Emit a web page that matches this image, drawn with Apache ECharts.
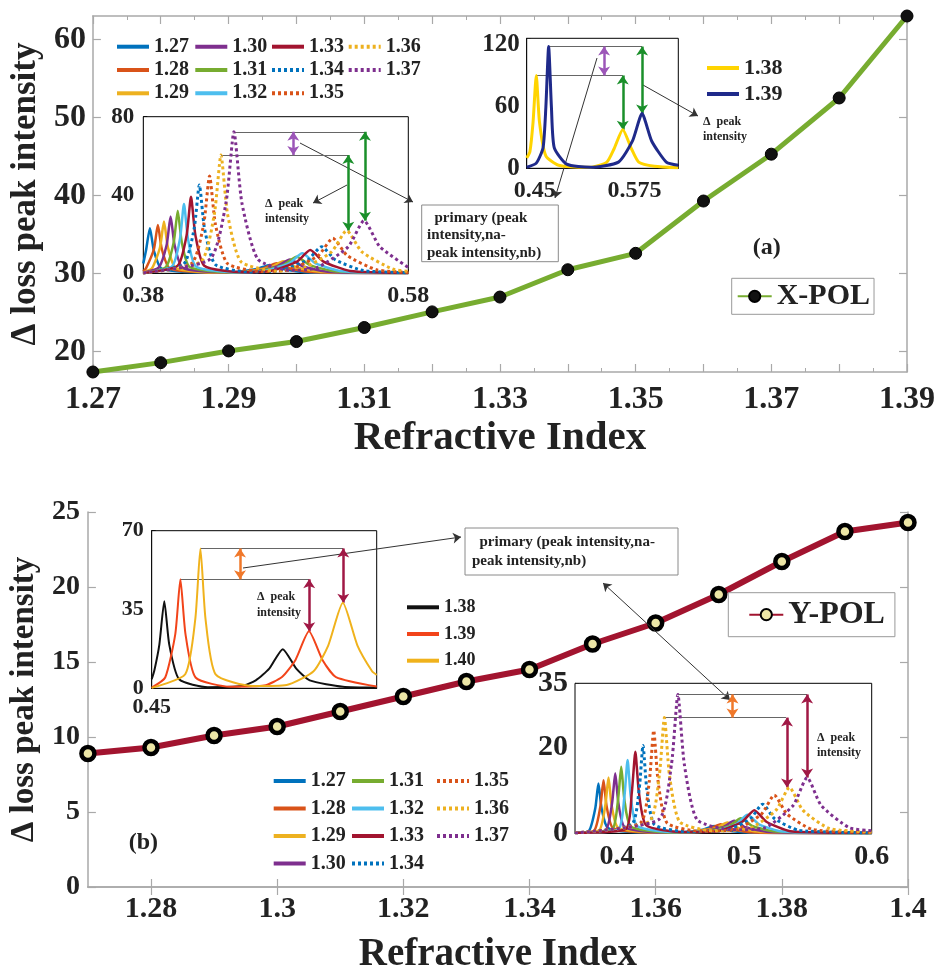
<!DOCTYPE html>
<html><head><meta charset="utf-8">
<script src="https://cdn.jsdelivr.net/npm/echarts@6/dist/echarts.min.js"></script>
<style>html,body{margin:0;padding:0;background:#fff}#c{width:938px;height:975px}</style>
</head><body><div id="c"></div>
<script>
// ---------------- main data ----------------
const riX = [1.27,1.28,1.29,1.30,1.31,1.32,1.33,1.34,1.35,1.36,1.37,1.38,1.39];
const xPol = [17.4,18.6,20.1,21.3,23.1,25.1,27.0,30.5,32.6,39.3,45.3,52.5,63.0];
const riY = [1.27,1.28,1.29,1.30,1.31,1.32,1.33,1.34,1.35,1.36,1.37,1.38,1.39,1.40];
const yPol = [8.9,9.3,10.1,10.7,11.7,12.7,13.7,14.5,16.2,17.6,19.5,21.7,23.7,24.3];
const xTickLabelsTop = [1.27,1.29,1.31,1.33,1.35,1.37,1.39];
const yTickLabelsTop = [20,30,40,50,60];
const xTickLabelsBot = [1.28,1.30,1.32,1.34,1.36,1.38,1.40];

// ---------------- inset (a) left: spectra 1.27..1.37 ----------------
const a127 = [[0.38,5],[0.382,11.5],[0.385,23],[0.388,11.5],[0.394,2.3],[0.43,0.3],[0.4456,0.4],[0.4656,2.2],[0.4756,4.3],[0.4856,2.2],[0.5056,0.4],[0.58,0.1]];
const a128 = [[0.38,1],[0.382,2.5],[0.388,12.3],[0.391,24.7],[0.394,12.3],[0.4,2.5],[0.43,0.4],[0.4506,0.5],[0.4706,2.5],[0.4806,5.1],[0.4906,2.5],[0.5106,0.5],[0.58,0.1]];
const a129 = [[0.38,0.5],[0.3866,2.6],[0.3926,13.2],[0.3956,26.4],[0.3986,13.2],[0.4046,2.6],[0.435,0.4],[0.4557,0.6],[0.4757,3],[0.4857,6.1],[0.4957,3],[0.5157,0.6],[0.58,0.1]];
const a130 = [[0.38,0.3],[0.3916,2.9],[0.3976,14.5],[0.4006,29],[0.4036,14.5],[0.4096,2.9],[0.44,0.5],[0.4607,0.7],[0.4807,3.5],[0.4907,7.1],[0.5007,3.5],[0.5207,0.7],[0.58,0.1]];
const a131 = [[0.38,0.2],[0.397,3.2],[0.403,16],[0.406,32],[0.409,16],[0.415,3.2],[0.445,0.5],[0.4657,0.9],[0.4857,4.2],[0.4957,8.5],[0.5057,4.2],[0.5257,0.9],[0.58,0.1]];
const a132 = [[0.38,0.2],[0.4017,3.5],[0.4077,17.7],[0.4107,35.4],[0.4137,17.7],[0.4197,3.5],[0.45,0.5],[0.47,1],[0.49,5.1],[0.5,10.2],[0.51,5.1],[0.53,1],[0.58,0.1]];
const a133 = [[0.38,0.2],[0.406,3.9],[0.4127,19.5],[0.416,39.1],[0.4193,19.5],[0.426,3.9],[0.455,0.6],[0.476,1.2],[0.496,6],[0.506,11.9],[0.516,6],[0.536,1.2],[0.58,0.2]];
const a134 = [[0.38,0.2],[0.4103,4.5],[0.4183,22.5],[0.4223,45.1],[0.4263,22.5],[0.4343,4.5],[0.46,0.7],[0.4831,1.4],[0.5041,6.8],[0.5146,13.6],[0.5251,6.8],[0.5461,1.4],[0.58,0.3]];
const a135 = [[0.38,0.2],[0.4165,5],[0.4255,24.8],[0.43,49.7],[0.4345,24.8],[0.4435,5],[0.47,0.9],[0.49,1.8],[0.512,9],[0.523,17.9],[0.534,9],[0.556,1.8],[0.58,0.5]];
const a136 = [[0.38,0.2],[0.4236,6],[0.4336,30.2],[0.4386,60.4],[0.4436,30.2],[0.4536,6],[0.48,1.2],[0.499,2.2],[0.522,10.9],[0.5335,21.8],[0.545,10.9],[0.568,2.2],[0.58,1]];
const a137 = [[0.38,0.2],[0.4304,7.2],[0.4424,36],[0.4484,72.3],[0.4544,36],[0.4664,7.2],[0.49,1.5],[0.5106,2.7],[0.5346,13.5],[0.5466,26.9],[0.5586,13.5],[0.58,3]];

// ---------------- inset (a) right: 1.38, 1.39 ----------------
const c138 = [[0.44,10],[0.444,16],[0.448,45],[0.452,90],[0.456,45],[0.464,12],[0.48,3],[0.52,1],[0.5404,6],[0.5494,18.7],[0.5604,37.4],[0.5714,18.7],[0.5804,6],[0.60,2],[0.63,0.5]];
const c139 = [[0.44,1],[0.452,5],[0.4605,20],[0.464,59],[0.4675,118],[0.471,59],[0.4745,20],[0.49,4],[0.52,1],[0.555,6],[0.5726,26.5],[0.5846,53],[0.5966,26.5],[0.615,6],[0.63,3]];

// ---------------- inset (b) left: 1.38, 1.39, 1.40 ----------------
const d138 = [[0.45,4],[0.4524,8],[0.4568,19.4],[0.4612,38.7],[0.4656,19.4],[0.4744,4],[0.50,0.5],[0.53,1],[0.5425,3.5],[0.5545,8.7],[0.5665,17.4],[0.5785,8.7],[0.5905,3.5],[0.62,0.7],[0.65,0.3]];
const d139 = [[0.45,0.3],[0.462,4.8],[0.471,24.2],[0.4755,48.4],[0.48,24.2],[0.489,4.8],[0.52,0.7],[0.55,1.2],[0.5658,5],[0.5778,12.6],[0.5898,25.3],[0.6018,12.6],[0.6138,5],[0.65,0.8]];
const d140 = [[0.45,0.2],[0.4798,6.2],[0.4888,31],[0.4933,62.1],[0.4978,31],[0.5068,6.2],[0.54,1],[0.57,1.5],[0.5939,7.6],[0.6069,19],[0.6199,38],[0.6329,19],[0.6459,7.6],[0.65,6]];

// ---------------- inset (b) right: spectra 1.27..1.37 ----------------
const b127 = [[0.367,0.1],[0.378,0.6],[0.3829,5.8],[0.3854,11.6],[0.3879,5.8],[0.3929,1.2],[0.42,0.2],[0.449,0.2],[0.4672,0.85],[0.4762,1.7],[0.4852,0.85],[0.503,0.2],[0.6,0]];
const b128 = [[0.367,0.1],[0.382,0.6],[0.3869,6.2],[0.3894,12.4],[0.3919,6.2],[0.3969,1.2],[0.425,0.2],[0.454,0.2],[0.4724,1],[0.4814,2.1],[0.4904,1],[0.508,0.2],[0.6,0]];
const b129 = [[0.367,0.1],[0.386,0.7],[0.3908,6.5],[0.3933,13],[0.3958,6.5],[0.4008,1.3],[0.43,0.2],[0.459,0.3],[0.4777,1.2],[0.4867,2.5],[0.4957,1.2],[0.514,0.3],[0.6,0]];
const b130 = [[0.367,0.1],[0.391,0.7],[0.3961,7],[0.3986,14],[0.4011,7],[0.4061,1.4],[0.435,0.2],[0.464,0.3],[0.483,1.4],[0.492,2.9],[0.501,1.4],[0.519,0.3],[0.6,0]];
const b131 = [[0.367,0.1],[0.396,0.8],[0.4008,7.8],[0.4033,15.5],[0.4058,7.8],[0.4108,1.6],[0.44,0.2],[0.469,0.4],[0.4882,1.7],[0.4972,3.5],[0.5062,1.7],[0.524,0.4],[0.6,0]];
const b132 = [[0.367,0.1],[0.401,0.9],[0.4058,8.6],[0.4083,17.1],[0.4108,8.6],[0.4158,1.7],[0.445,0.3],[0.474,0.4],[0.4935,2.1],[0.5025,4.3],[0.5115,2.1],[0.53,0.4],[0.6,0]];
const b133 = [[0.367,0.1],[0.407,1],[0.4116,9.5],[0.4144,19],[0.4172,9.5],[0.4228,1.9],[0.45,0.3],[0.479,0.5],[0.4983,2.7],[0.5078,5.4],[0.5173,2.7],[0.536,0.5],[0.6,0.1]];
const b134 = [[0.367,0.1],[0.4114,2],[0.4174,10.3],[0.4204,20.5],[0.4234,10.3],[0.4294,2],[0.455,0.4],[0.4858,0.7],[0.5048,3.4],[0.5143,6.8],[0.5238,3.4],[0.5428,0.7],[0.6,0.1]];
const b135 = [[0.367,0.1],[0.4183,2.4],[0.4253,12],[0.4288,24],[0.4323,12],[0.4393,2.4],[0.465,0.5],[0.4935,0.9],[0.5135,4.5],[0.5235,8.9],[0.5335,4.5],[0.5535,0.9],[0.6,0.2]];
const b136 = [[0.367,0.1],[0.4252,2.7],[0.4332,13.5],[0.4372,27],[0.4412,13.5],[0.4492,2.7],[0.475,0.6],[0.5039,1.1],[0.5249,5.4],[0.5354,10.7],[0.5459,5.4],[0.5669,1.1],[0.6,0.3]];
const b137 = [[0.367,0.1],[0.4328,3.2],[0.4428,16.2],[0.4478,32.4],[0.4528,16.2],[0.4628,3.2],[0.49,0.8],[0.5163,1.3],[0.5383,6.5],[0.5493,13],[0.5603,6.5],[0.5823,1.3],[0.6,0.6]];

// ---------------- styling ----------------
const FONT = "'Liberation Serif','Times New Roman',serif";
const TXT = '#222';
const GRAY = '#a9a9a9';
const MC = ['#0072BD','#D95319','#EDB120','#7E2F8E','#77AC30','#4DBEEE','#A2142F','#0072BD','#D95319','#EDB120','#7E2F8E'];
const MDOT = [false,false,false,false,false,false,false,true,true,true,true];
const names11 = ['1.27','1.28','1.29','1.30','1.31','1.32','1.33','1.34','1.35','1.36','1.37'];
const aCurves = [a127,a128,a129,a130,a131,a132,a133,a134,a135,a136,a137];
const bCurves = [b127,b128,b129,b130,b131,b132,b133,b134,b135,b136,b137];
const DOT = [3,3];

const chart = echarts.init(document.getElementById('c'), null, {renderer:'canvas'});

function lab(size, extra){ return Object.assign({fontFamily:FONT, fontWeight:'bold', fontSize:size, color:TXT}, extra||{}); }

function curve(name, data, color, dotted, ax, width){
  return {type:'line', name, xAxisIndex:ax, yAxisIndex:ax, data, symbol:'none', smooth:0.2,
    lineStyle:{color, width: width || (dotted?3:2.5), type: dotted?DOT:'solid', cap:'butt'},
    itemStyle:{color}, z:5, silent:true, clip:true};
}

const series = [];
// main
series.push({type:'line', name:'X-POL', xAxisIndex:0, yAxisIndex:0, data: riX.map((r,i)=>[r,xPol[i]]),
  symbol:'circle', symbolSize:12, clip:false, z:3,
  lineStyle:{color:'#77AC30', width:5}, itemStyle:{color:'#111', borderColor:'#000', borderWidth:1},
  markLine:{silent:true, animation:false, symbol:['none','arrow'], symbolSize:8, label:{show:false},
    lineStyle:{color:'#333', width:1, type:'solid'},
    data:[
      [{x:300,y:143,symbol:'none'},{x:413,y:202,symbol:'arrow'}],
      [{x:597,y:58,symbol:'none'},{x:555,y:198,symbol:'arrow'}],
      [{x:643,y:85,symbol:'none'},{x:698,y:116,symbol:'arrow'}],
      [{x:347,y:185,symbol:'none'},{x:313,y:203,symbol:'arrow'}]
    ]}
});
series.push({type:'line', name:'Y-POL', xAxisIndex:4, yAxisIndex:4, data: riY.map((r,i)=>[r,yPol[i]]),
  symbol:'circle', symbolSize:13, clip:false, z:3,
  lineStyle:{color:'#A2142F', width:6}, itemStyle:{color:'#ece6a6', borderColor:'#000', borderWidth:4.5},
  markLine:{silent:true, animation:false, symbol:['none','arrow'], symbolSize:8, label:{show:false},
    lineStyle:{color:'#333', width:1, type:'solid'},
    data:[
      [{x:243,y:568,symbol:'none'},{x:461,y:537,symbol:'arrow'}],
      [{x:603,y:583,symbol:'arrow'},{x:730,y:700,symbol:'arrow'}]
    ]}
});

const GREEN='#1A8F2A', PURP='#9C56B8', ORNG='#F0782A', CRIM='#A01845', LGRAY='#666';
function hl(x1,y1,x2,y2){ return [{coord:[x1,y1], symbol:'none', lineStyle:{color:LGRAY,width:1,type:'solid'}},{coord:[x2,y2], symbol:'none'}]; }
function dar(x,y1,y2,c){ return [{coord:[x,y1], symbol:'arrow', lineStyle:{color:c,width:2.5,type:'solid'}},{coord:[x,y2], symbol:'arrow'}]; }

aCurves.forEach((d,i)=>{
  const s = curve('a'+names11[i], d, MC[i], MDOT[i], 2);
  if(i===10){
    s.markLine = {silent:true, animation:false, symbolSize:9, label:{show:false}, data:[
      hl(0.4484,72.3,0.5473,72.3), hl(0.4386,60.4,0.5347,60.4),
      dar(0.5347,60.4,21.8,GREEN), dar(0.5473,72.3,26.9,GREEN), dar(0.4932,72.3,60.4,PURP)
    ]};
  }
  series.push(s);
});
const sc139 = curve('c1.39', c139, '#1F2A8A', false, 3, 3);
sc139.markLine = {silent:true, animation:false, symbolSize:9, label:{show:false}, data:[
  hl(0.4675,118,0.5846,118), hl(0.452,90,0.5604,90),
  dar(0.5604,90,37.4,GREEN), dar(0.5846,118,53,GREEN), dar(0.537,118,90,PURP)
]};
series.push(curve('c1.38', c138, '#FFD400', false, 3, 3));
series.push(sc139);

series.push(curve('d1.38', d138, '#111111', false, 6, 2));
series.push(curve('d1.39', d139, '#F2441A', false, 6, 2));
const sd140 = curve('d1.40', d140, '#F0B21C', false, 6, 2);
sd140.markLine = {silent:true, animation:false, symbolSize:9, label:{show:false}, data:[
  hl(0.4933,62.1,0.6203,62.1), hl(0.4755,48.4,0.590,48.4),
  dar(0.5285,62.1,48.4,ORNG), dar(0.590,48.4,25.3,CRIM), dar(0.6203,62.1,38,CRIM)
]};
series.push(sd140);

bCurves.forEach((d,i)=>{
  const s = curve('b'+names11[i], d, MC[i], MDOT[i], 7);
  if(i===10){
    s.markLine = {silent:true, animation:false, symbolSize:9, label:{show:false}, data:[
      hl(0.4478,32.4,0.5493,32.4), hl(0.4372,27,0.5327,27),
      dar(0.4907,32.4,27,ORNG), dar(0.5335,27,10.7,CRIM), dar(0.5493,32.4,13,CRIM)
    ]};
  }
  series.push(s);
});

// ---------------- axes ----------------
const grids = [
  {left:89, top:16, width:818, height:356},
  {left:143.3, top:116.7, width:265, height:156.6, show:true, backgroundColor:'#fff', borderColor:'#000', borderWidth:1, z:1},
  {left:526.7, top:38.3, width:151.6, height:130, show:true, backgroundColor:'#fff', borderColor:'#000', borderWidth:1, z:1},
  {left:83, top:512, width:825, height:385},
  {left:151.7, top:530.7, width:225, height:157.6, show:true, backgroundColor:'#fff', borderColor:'#000', borderWidth:1, z:1},
  {left:575, top:683.3, width:296.7, height:150, show:true, backgroundColor:'#fff', borderColor:'#000', borderWidth:1, z:1}
];

const mainLine = {lineStyle:{color:GRAY, width:1.5}};
const mainTick = (len)=>({inside:true, length:len, lineStyle:{color:GRAY, width:1.2}});
const insLine = {lineStyle:{color:'#000', width:1}};
const insTick = {inside:true, length:4, lineStyle:{color:'#000', width:1}};

// xAxis order: 0 top-main, 1 top-main top side, 2 TL inset, 3 TR inset, 4 bottom-main, 5 bottom-main top side, 6 BL inset, 7 BR inset
const xAxis = [
  {gridIndex:0, type:'value', min:1.27, max:1.39, interval:0.01, axisLine:mainLine, axisTick:mainTick(8),
   minorTick:{show:true, splitNumber:2, length:4, lineStyle:{color:GRAY}}, splitLine:{show:false}, minorSplitLine:{show:false},
   axisLabel:Object.assign(lab(32), {customValues:xTickLabelsTop, margin:12}),
   name:'Refractive Index', nameLocation:'middle', nameGap:46, nameTextStyle:lab(41)},
  {gridIndex:0, type:'value', position:'top', min:1.27, max:1.39, interval:0.01, axisLine:mainLine, axisTick:mainTick(8),
   minorTick:{show:true, splitNumber:2, length:4, lineStyle:{color:GRAY}}, splitLine:{show:false}, axisLabel:{show:false}},
  {gridIndex:1, type:'value', min:0.38, max:0.58, interval:0.02, axisLine:insLine, axisTick:insTick, splitLine:{show:false},
   axisLabel:Object.assign(lab(24), {customValues:[0.38,0.48,0.58], margin:10})},
  {gridIndex:2, type:'value', min:0.44, max:0.63, interval:0.01, axisLine:insLine, axisTick:insTick, splitLine:{show:false},
   axisLabel:Object.assign(lab(24), {customValues:[0.45,0.575], margin:10})},
  {gridIndex:3, type:'value', min:1.27, max:1.40, axisLine:mainLine, axisTick:Object.assign(mainTick(8), {customValues:xTickLabelsBot}),
   splitLine:{show:false},
   axisLabel:Object.assign(lab(30), {customValues:xTickLabelsBot, margin:7}),
   name:'Refractive Index', nameLocation:'middle', nameGap:48, nameTextStyle:lab(39)},
  {gridIndex:3, type:'value', position:'top', min:1.27, max:1.40, axisLine:mainLine, axisTick:Object.assign(mainTick(8), {customValues:xTickLabelsBot}),
   splitLine:{show:false}, axisLabel:{show:false}},
  {gridIndex:4, type:'value', min:0.45, max:0.65, interval:0.05, axisLine:insLine, axisTick:insTick, splitLine:{show:false},
   axisLabel:Object.assign(lab(22), {customValues:[0.45], margin:8})},
  {gridIndex:5, type:'value', min:0.367, max:0.6, axisLine:insLine, axisTick:Object.assign({}, insTick, {customValues:[0.4,0.45,0.5,0.55,0.6]}), splitLine:{show:false},
   axisLabel:Object.assign(lab(28), {customValues:[0.4,0.5,0.6], margin:9})}
];
const yAxis = [
  {gridIndex:0, type:'value', min:17.4, max:63, axisLine:mainLine, axisTick:Object.assign(mainTick(8), {customValues:yTickLabelsTop}),
   splitLine:{show:false}, axisLabel:Object.assign(lab(32), {customValues:yTickLabelsTop, margin:7}),
   name:'Δ loss peak intensity', nameLocation:'middle', nameGap:44, nameTextStyle:lab(35)},
  {gridIndex:0, type:'value', position:'right', min:17.4, max:63, axisLine:mainLine, axisTick:Object.assign(mainTick(8), {customValues:yTickLabelsTop}),
   splitLine:{show:false}, axisLabel:{show:false}},
  {gridIndex:1, type:'value', min:0, max:80, interval:10, axisLine:insLine, axisTick:insTick, splitLine:{show:false},
   axisLabel:Object.assign(lab(23), {customValues:[0,40,80], margin:9})},
  {gridIndex:2, type:'value', min:0, max:126, interval:20, axisLine:insLine, axisTick:insTick, splitLine:{show:false},
   axisLabel:Object.assign(lab(25), {customValues:[0,60,120], margin:7})},
  {gridIndex:3, type:'value', min:0, max:25, interval:5, axisLine:mainLine, axisTick:mainTick(8), splitLine:{show:false},
   axisLabel:Object.assign(lab(28), {margin:8}),
   name:'Δ loss peak intensity', nameLocation:'middle', nameGap:40, nameTextStyle:lab(33)},
  {gridIndex:3, type:'value', position:'right', min:0, max:25, interval:5, axisLine:mainLine, axisTick:mainTick(8), splitLine:{show:false}, axisLabel:{show:false}},
  {gridIndex:4, type:'value', min:0, max:70, interval:35, axisLine:insLine, axisTick:insTick, splitLine:{show:false},
   axisLabel:Object.assign(lab(22), {margin:8})},
  {gridIndex:5, type:'value', min:0, max:35, axisLine:insLine, axisTick:Object.assign({}, insTick, {customValues:[0,5,10,15,20,25,30,35]}), splitLine:{show:false},
   axisLabel:Object.assign(lab(30), {customValues:[0,20,35], margin:7})}
];

// legend items: plain line samples (no marker), dotted where the series is dotted
function item(name, dotted){
  return {name, itemStyle:{opacity:0, color:'rgba(0,0,0,0)', borderWidth:0},
    lineStyle:{width:4, type: dotted ? DOT : 'solid', cap:'butt'}};
}
function leg(left, top, list, fs, gap){
  return {orient:'vertical', left, top, data:list, formatter:(n)=>n.slice(1), itemWidth:32, itemHeight:14, itemGap:gap,
    padding:0, selectedMode:false, textStyle:lab(fs, {lineHeight:fs})};
}
const A = (i)=>item('a'+names11[i], MDOT[i]);
const B = (i)=>item('b'+names11[i], MDOT[i]);
const legend = [
  leg(115, 36.7, [A(0),A(1),A(2)], 20, 3.3),
  leg(193.3, 36.7, [A(3),A(4),A(5)], 20, 3.3),
  leg(270, 36.7, [A(6),A(7),A(8)], 20, 3.3),
  leg(346.7, 36.7, [A(9),A(10)], 20, 3.3),
  leg(705, 57, [item('c1.38',false), item('c1.39',false)], 22, 4),
  leg(405, 598.3, [item('d1.38',false), item('d1.39',false), item('d1.40',false)], 18, 8.7),
  leg(271.7, 771, [B(0),B(1),B(2),B(3)], 20, 7.5),
  leg(350, 771, [B(4),B(5),B(6),B(7)], 20, 7.5),
  leg(435, 771, [B(8),B(9),B(10)], 20, 7.5),
  {orient:'horizontal', left:731.7, top:278.3, data:['X-POL'], itemWidth:34, itemHeight:14, padding:[3,4,3,5],
   borderColor:'#999', borderWidth:1, backgroundColor:'#fff', selectedMode:false, textStyle:lab(30,{lineHeight:30})},
  {orient:'horizontal', left:728.3, top:592.7, data:['Y-POL'], itemWidth:34, itemHeight:14, padding:[6,10,6,20],
   borderColor:'#999', borderWidth:1, backgroundColor:'#fff', selectedMode:false, textStyle:lab(32,{lineHeight:32})}
];

function txt(x, y, text, fs, align, lh){
  return {type:'text', x, y, z:20, silent:true, style:{text, fontFamily:FONT, fontWeight:'bold', fontSize:fs, fill:TXT,
    textAlign:align||'left', textVerticalAlign:'top', lineHeight:lh||fs}};
}
const graphic = [
  {type:'rect', z:15, silent:true, shape:{x:421.7, y:205, width:136.6, height:56.7}, style:{fill:'#fff', stroke:'#8a8a8a', lineWidth:1}},
  txt(427, 209, '  primary (peak\nintensity,na-\npeak intensity,nb)', 15, 'left', 17.5),
  {type:'rect', z:15, silent:true, shape:{x:465, y:528, width:213, height:47}, style:{fill:'#fff', stroke:'#8a8a8a', lineWidth:1}},
  txt(472, 532, '  primary (peak intensity,na-\npeak intensity,nb)', 15, 'left', 19.4),
  txt(265, 196, 'Δ  peak\nintensity', 12, 'left', 15),
  txt(703, 114, 'Δ  peak\nintensity', 12, 'left', 15),
  txt(257, 589, 'Δ  peak\nintensity', 12, 'left', 16),
  txt(817, 730, 'Δ  peak\nintensity', 12, 'left', 15),
  txt(766.7, 236, '(a)', 24, 'center', 24),
  txt(143.3, 831, '(b)', 24, 'center', 24)
];

chart.setOption({
  animation:false,
  backgroundColor:'#fff',
  textStyle:{fontFamily:FONT},
  grid:grids, xAxis, yAxis, legend, series, graphic
});
</script>
</body></html>
